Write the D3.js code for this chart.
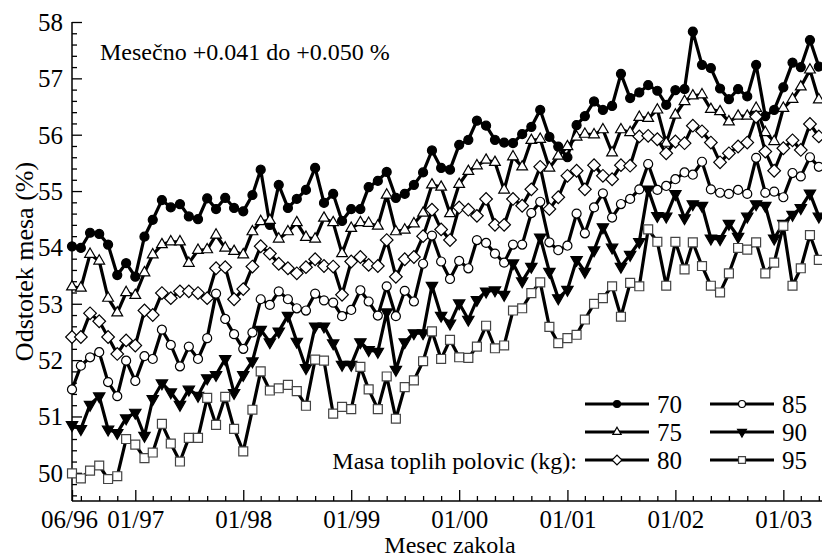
<!DOCTYPE html>
<html>
<head>
<meta charset="utf-8">
<script src="https://cdn.jsdelivr.net/npm/d3@7"></script>
<style>
body { margin: 0; background: #fff; }
</style>
</head>
<body>
<svg id="chart" width="822" height="558"></svg>
<script>
// months of slaughter, 06/96 .. 05/03
var months = d3.timeMonth.range(new Date(1996, 5, 1), new Date(2003, 5, 1));

var s70 = [54.02,53.99,54.26,54.24,54.05,53.51,53.72,53.48,54.19,54.49,54.84,54.71,54.77,54.55,54.50,54.87,54.68,54.88,54.70,54.64,
  54.93,55.38,54.40,55.11,54.70,54.86,55.02,55.41,54.79,54.95,54.47,54.68,54.68,55.07,55.18,55.34,54.88,54.95,55.11,55.33,
  55.72,55.41,55.38,55.82,55.91,56.25,56.16,55.91,55.86,55.85,56.01,56.14,56.44,55.96,55.79,55.60,56.17,56.33,56.59,56.44,
  56.51,57.08,56.65,56.75,56.88,56.78,56.53,56.79,56.81,57.83,57.24,57.18,56.82,56.63,56.81,56.68,57.24,56.33,56.44,56.84,
  57.28,57.20,57.68,57.21];
var s75 = [53.30,53.28,53.88,53.76,53.10,52.84,53.20,53.15,53.55,53.87,54.05,54.10,54.10,53.72,53.95,53.96,54.22,53.99,53.93,53.87,
  54.28,54.46,54.48,54.15,54.28,54.44,54.18,54.15,54.52,54.44,53.89,54.34,54.44,54.43,54.38,54.93,54.28,54.31,54.42,54.61,
  55.11,55.07,54.60,55.12,55.35,55.45,55.55,55.51,55.02,55.61,55.43,55.90,55.92,55.41,55.62,55.79,55.96,56.01,56.00,56.09,
  55.68,56.09,56.04,56.31,56.29,56.44,55.85,56.35,56.59,56.69,56.71,56.45,56.41,56.23,56.33,56.33,56.47,56.04,55.88,56.47,
  56.63,56.85,57.15,56.62];
var s80 = [52.41,52.41,52.83,52.69,52.41,52.11,52.35,52.26,52.88,52.80,53.19,53.10,53.22,53.22,53.19,53.10,53.63,53.65,53.08,53.26,
  53.66,54.02,53.89,53.71,53.63,53.54,53.65,53.79,53.67,53.66,53.16,53.75,53.83,53.69,53.67,54.13,53.48,53.79,53.83,54.20,
  54.67,54.32,54.13,54.71,54.67,54.56,54.86,54.40,54.40,54.86,54.74,55.03,55.43,54.68,54.89,55.27,55.36,55.03,55.46,55.27,
  55.21,55.46,55.45,55.97,55.98,55.92,55.67,55.88,55.85,56.16,56.06,55.86,55.51,55.67,55.79,55.86,56.32,55.70,55.36,55.76,
  55.90,55.73,56.19,55.97];
var s85 = [51.48,51.90,52.05,52.14,51.61,51.36,51.99,51.63,52.07,52.02,52.54,52.27,51.89,52.24,52.02,52.39,53.18,52.73,52.46,52.20,
  52.49,53.08,52.98,53.22,53.08,52.92,52.88,53.18,53.06,53.02,52.78,52.89,53.24,53.04,52.79,53.31,52.78,53.23,53.04,53.71,
  54.21,53.75,53.44,53.76,53.63,54.13,54.08,53.89,53.73,54.05,54.05,54.61,54.81,54.09,53.95,54.03,54.60,54.25,54.71,54.96,
  54.53,54.77,54.86,55.03,55.48,55.02,55.09,55.21,55.33,55.29,55.52,55.03,54.97,54.95,55.02,54.95,55.59,54.97,54.99,54.89,
  55.32,55.26,55.60,55.43];
var s90 = [50.85,50.78,51.21,51.36,50.77,50.71,50.97,51.07,50.66,51.31,51.59,51.43,51.21,51.48,51.37,51.68,51.74,52.02,51.42,51.74,
  51.98,52.54,52.32,52.51,52.79,52.33,51.86,52.60,52.60,52.30,51.92,51.92,52.32,52.18,52.15,52.85,51.83,52.32,52.48,52.48,
  53.32,52.79,52.65,53.01,52.72,53.07,53.22,53.24,53.16,53.72,53.40,53.66,54.18,53.57,53.10,53.25,53.78,53.57,53.95,54.36,
  54.00,53.66,53.87,54.10,55.03,54.56,54.55,54.95,54.52,54.77,54.74,54.16,54.15,54.42,54.19,54.55,54.77,54.74,54.16,54.42,
  54.58,54.70,54.96,54.55];
var s95 = [49.99,49.90,50.04,50.13,49.89,49.94,50.60,50.50,50.26,50.36,50.87,50.52,50.20,50.62,50.62,51.33,50.85,51.35,50.78,50.38,
  51.12,51.80,51.46,51.50,51.56,51.45,51.19,52.01,51.99,51.05,51.17,51.13,51.88,51.48,51.13,51.71,50.96,51.52,51.64,51.98,
  52.51,52.02,52.36,52.05,52.04,52.24,52.61,52.21,52.26,52.88,52.92,53.19,53.38,52.59,52.30,52.39,52.45,52.72,53.00,53.10,
  53.31,52.77,53.37,53.31,54.32,54.10,53.32,54.10,53.61,54.09,53.67,53.32,53.20,53.54,53.99,53.96,54.09,53.54,53.73,54.38,
  53.32,53.63,54.22,53.78];

var seriesNames = ["70", "75", "80", "85", "90", "95"];
var seriesValues = [s70, s75, s80, s85, s90, s95];

var xTickDates = [new Date(1996,5,1), new Date(1997,0,1), new Date(1998,0,1), new Date(1999,0,1),
  new Date(2000,0,1), new Date(2001,0,1), new Date(2002,0,1), new Date(2003,0,1)];
var xTickLabels = ["06/96", "01/97", "01/98", "01/99", "01/00", "01/01", "01/02", "01/03"];
var yTicks = [50, 51, 52, 53, 54, 55, 56, 57, 58];

// pick a Times-like face that is really installed, and scale it to Times widths
var ctx = document.createElement("canvas").getContext("2d");
function textWidth(font, s) { ctx.font = font; return ctx.measureText(s).width; }
var probe = "Mesec zakola 0123456789 mwil";
var serifFont = ["Liberation Serif", "Times New Roman", "Tinos", "Nimbus Roman", "Noto Serif", "DejaVu Serif", "FreeSerif"]
  .find(function(f) {
    return textWidth("40px '" + f + "', monospace", probe) != textWidth("40px monospace", probe);
  }) || "serif";
var fontStack = "'" + serifFont + "', serif";
// "01/98" is 2.278 em wide in Times
var fontScale = 2.278 * 100 / textWidth("100px " + fontStack, "01/98");
function fs(px) { return (px * fontScale).toFixed(2) + "px"; }

var svg = d3.select("#chart").style("font-family", fontStack),
    plotLeft = 72, plotTop = 22, plotBottom = 501;

var x = d3.scaleTime()
    .domain([new Date(1996, 5, 1), new Date(2003, 5, 1)])
    .range([plotLeft, plotLeft + 84 * 9]);

var y = d3.scaleLinear()
    .domain([49.5, 58])
    .range([plotBottom, plotTop]);

// minor ticks
var xMinor = months.filter(function(d) { return d.getMonth() % 2 == 0 && d.getMonth() != 0; });
var yMinor = d3.range(49.6, 58, 0.2).filter(function(v) { return Math.abs(v - Math.round(v)) > 0.01; });

svg.append("g")
    .attr("transform", "translate(0," + plotBottom + ")")
    .call(d3.axisBottom(x).tickValues(xMinor).tickSize(-5).tickSizeOuter(0).tickFormat(""))
    .call(function(g) { g.select(".domain").remove(); g.selectAll("line").attr("stroke-width", 1.3); });

svg.append("g")
    .attr("transform", "translate(" + plotLeft + ",0)")
    .call(d3.axisLeft(y).tickValues(yMinor).tickSize(-5).tickSizeOuter(0).tickFormat(""))
    .call(function(g) { g.select(".domain").remove(); g.selectAll("line").attr("stroke-width", 1.3); });

var xAxis = svg.append("g")
    .attr("transform", "translate(0," + plotBottom + ")")
    .call(d3.axisBottom(x).tickValues(xTickDates).tickSize(-11).tickSizeOuter(0)
      .tickFormat(function(d, i) { return xTickLabels[i]; }));
xAxis.select(".domain").attr("d", "M" + plotLeft + ",0H822").attr("stroke-width", 1.5);
xAxis.selectAll(".tick line").attr("stroke-width", 1.3);
xAxis.selectAll(".tick text").attr("y", 27).attr("dy", 0)
    .attr("font-size", fs(25)).attr("font-family", fontStack);
xAxis.select(".tick text").attr("dx", -3);

var yAxis = svg.append("g")
    .attr("transform", "translate(" + plotLeft + ",0)")
    .call(d3.axisLeft(y).tickValues(yTicks).tickSize(-10).tickPadding(9).tickSizeOuter(0));
yAxis.select(".domain").attr("d", "M0," + plotTop + "V" + plotBottom).attr("stroke-width", 1.5);
yAxis.selectAll(".tick line").attr("stroke-width", 1.3);
yAxis.selectAll(".tick text").attr("dy", "0.34em")
    .attr("font-size", fs(25)).attr("font-family", fontStack);

// axis titles
svg.append("text")
    .attr("transform", "translate(33," + ((plotTop + plotBottom) / 2) + ") rotate(-90)")
    .attr("text-anchor", "middle")
    .attr("font-size", fs(26))
    .text("Odstotek mesa (%)");

svg.append("text")
    .attr("x", 450).attr("y", 553)
    .attr("text-anchor", "middle")
    .attr("font-size", fs(24))
    .text("Mesec zakola");

svg.append("text")
    .attr("x", 100).attr("y", 60)
    .attr("font-size", fs(24))
    .text("Mesečno +0.041 do +0.050 %");

// marker styles
function marker(sel, k, scale) {
  var types = [d3.symbolCircle, d3.symbolTriangle, d3.symbolSquare, d3.symbolCircle, d3.symbolTriangle, d3.symbolSquare];
  var sizes = [64, 50, 80, 64, 56, 80];
  var fills = ["#000", "#fff", "#fff", "#fff", "#000", "#fff"];
  var strokes = ["#000", "#000", "#000", "#000", "#000", "#444"];
  var rot = [0, 0, 45, 0, 180, 0];
  sel.attr("d", d3.symbol().type(types[k]).size(sizes[k] * scale))
     .attr("fill", fills[k])
     .attr("stroke", strokes[k])
     .attr("stroke-width", 1.2)
     .attr("data-rot", rot[k]);
}

var line = d3.line()
    .x(function(d, i) { return x(months[i]); })
    .y(function(d) { return y(d); });

seriesValues.forEach(function(vals, k) {
  var g = svg.append("g").attr("class", "series s" + seriesNames[k]);
  g.append("path")
      .datum(vals)
      .attr("fill", "none")
      .attr("stroke", "#000")
      .attr("stroke-width", 3.2)
      .attr("stroke-linejoin", "round")
      .attr("d", line);
  g.selectAll("path.pt")
      .data(vals)
      .enter().append("path")
      .attr("class", "pt")
      .call(marker, k, 1)
      .attr("transform", function(d, i) {
        return "translate(" + x(months[i]) + "," + y(d) + ") rotate(" + d3.select(this).attr("data-rot") + ")";
      });
});

// legend
var legend = svg.append("g").attr("class", "legend");
seriesNames.forEach(function(name, k) {
  var col = Math.floor(k / 3), row = k % 3;
  var cx = 617 + col * 125, cy = 404 + row * 28;
  legend.append("line")
      .attr("x1", cx - 32).attr("x2", cx + 32)
      .attr("y1", cy).attr("y2", cy)
      .attr("stroke", "#000").attr("stroke-width", 3);
  legend.append("path")
      .call(marker, k, 0.6)
      .attr("transform", function() {
        return "translate(" + cx + "," + cy + ") rotate(" + d3.select(this).attr("data-rot") + ")";
      });
  legend.append("text")
      .attr("x", cx + 40).attr("y", cy + 9)
      .attr("font-size", fs(25))
      .text(name);
});
legend.append("text")
    .attr("x", 577).attr("y", 469)
    .attr("text-anchor", "end")
    .attr("font-size", fs(24))
    .text("Masa toplih polovic (kg):");
</script>
</body>
</html>
